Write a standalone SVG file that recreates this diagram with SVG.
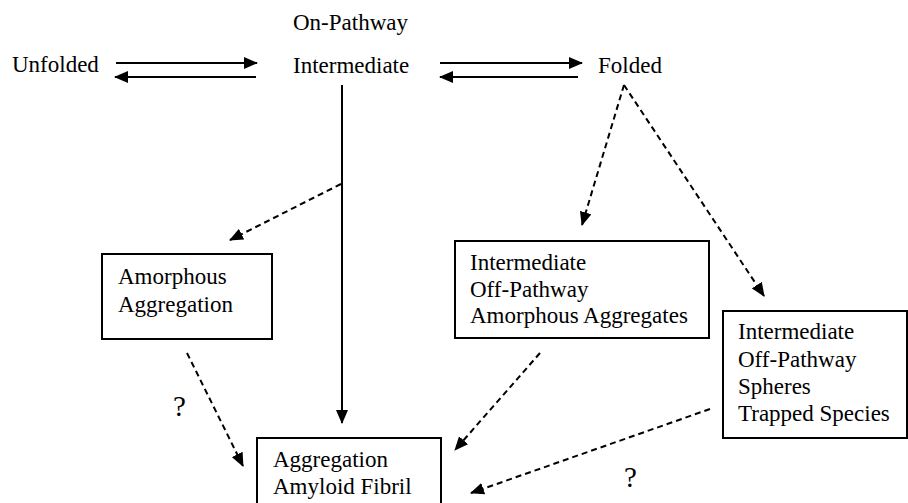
<svg xmlns="http://www.w3.org/2000/svg" width="908" height="503" viewBox="0 0 908 503" font-family="Liberation Serif, Times New Roman, DejaVu Serif, serif">
<style>
text{font-family:'Liberation Serif','Times New Roman','DejaVu Serif',serif;font-size:23px;fill:#000}
text.q{font-size:29px}
.box{fill:#fff;stroke:#000;stroke-width:2}
.s{fill:none;stroke:#000;stroke-width:2}
.d{fill:none;stroke:#000;stroke-width:2;stroke-dasharray:6 4}
</style>
<defs>
<marker id="ah" markerUnits="userSpaceOnUse" markerWidth="14" markerHeight="12" refX="13" refY="6" orient="auto">
<path d="M0,0 L14,6 L0,12 Z" fill="#000"/>
</marker>
</defs>
<rect width="908" height="503" fill="#fff"/>
<g id="connectors">
<line class="s" x1="116" y1="63" x2="257" y2="63" marker-end="url(#ah)"/>
<line class="s" x1="256" y1="77" x2="115" y2="77" marker-end="url(#ah)"/>
<line class="s" x1="440" y1="63" x2="582" y2="63" marker-end="url(#ah)"/>
<line class="s" x1="578" y1="77" x2="440" y2="77" marker-end="url(#ah)"/>
<line class="s" x1="342" y1="85" x2="342" y2="423" marker-end="url(#ah)"/>
<line class="d" x1="341" y1="184" x2="230" y2="240" marker-end="url(#ah)"/>
<line class="d" x1="187" y1="353" x2="243" y2="466" marker-end="url(#ah)"/>
<line class="d" x1="624" y1="85" x2="582" y2="225" marker-end="url(#ah)"/>
<line class="d" x1="624" y1="85" x2="764" y2="296" marker-end="url(#ah)"/>
<line class="d" x1="540" y1="353" x2="455" y2="450" marker-end="url(#ah)"/>
<line class="d" x1="710" y1="409" x2="471" y2="493" marker-end="url(#ah)"/>
</g>
<g id="unfolded"><text x="12" y="72">Unfolded</text></g>
<g id="intermediate"><text x="293" y="30">On-Pathway</text><text x="293" y="73">Intermediate</text></g>
<g id="folded"><text x="598" y="73">Folded</text></g>
<g id="amorphous"><rect class="box" x="102" y="254" width="170" height="85"/><text x="118" y="284">Amorphous</text><text x="118" y="312">Aggregation</text></g>
<g id="offpath1"><rect class="box" x="455" y="241" width="254" height="97"/><text x="470" y="270">Intermediate</text><text x="470" y="297">Off-Pathway</text><text x="470" y="323">Amorphous Aggregates</text></g>
<g id="offpath2"><rect class="box" x="723" y="311" width="184" height="127"/><text x="738" y="339">Intermediate</text><text x="738" y="367">Off-Pathway</text><text x="738" y="394">Spheres</text><text x="738" y="421">Trapped Species</text></g>
<g id="fibril"><rect class="box" x="257" y="438" width="184" height="70"/><text x="273" y="467">Aggregation</text><text x="273" y="494">Amyloid Fibril</text></g>
<g id="q1"><text class="q" x="173" y="416">?</text></g>
<g id="q2"><text class="q" x="624" y="487">?</text></g>
</svg>
